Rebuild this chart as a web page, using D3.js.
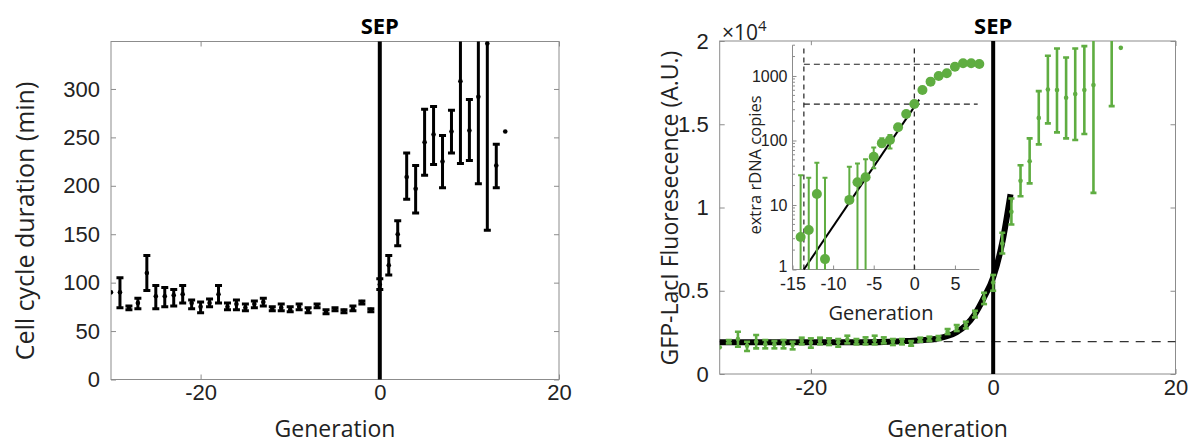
<!DOCTYPE html>
<html><head><meta charset="utf-8">
<script src="https://cdn.jsdelivr.net/npm/d3@7"></script>
<style>
body{margin:0;background:#fff;}
svg{display:block;font-family:"Open Sans",sans-serif;}
</style></head>
<body><svg id="c" width="1194" height="445"></svg>
<script>
// ---------- DATA ----------
// Left panel: cell cycle duration (min)
const leftGen  = [-30,-29,-28,-27,-26,-25,-24,-23,-22,-21,-20,-19,-18,-17,-16,-15,-14,-13,-12,-11,-10,-9,-8,-7,-6,-5,-4,-3,-2,-1,0,1,2,3,4,5,6,7,8,9,10,11,12,13,14];
const leftMean = [90,90,74,79,110,86,86,87,88,79,75,79,88,75,78,74,78,80,73,74,72,75,72,76,70,72,71,73,80,72,98,118,150,209,197,245,253,225,256,308,257,292,347,221,256];
const leftLo   = [null,74,72,73,92,73,75,76,79,73,69,75,79,72,72,71,74,76,71,71,70,72,69,74,68,71,69,71,78,70,93,108,138,186,172,211,222,198,234,223,226,202,154,198,null];
const leftHi   = [null,105,76,84,128,97,95,93,97,82,80,83,97,79,82,78,81,84,75,78,75,78,74,78,72,74,72,76,81,73,104,128,164,234,221,279,282,252,278,393,289,382,540,243,null];
const leftYTicks = [0,50,100,150,200,250,300];
const xTicks = [-20,0,20];

// Right panel: GFP-LacI fluorescence (x10^4 A.U.)
const rightGen  = [-30,-29,-28,-27,-26,-25,-24,-23,-22,-21,-20,-19,-18,-17,-16,-15,-14,-13,-12,-11,-10,-9,-8,-7,-6,-5,-4,-3,-2,-1,0,1,2,3,4,5,6,7,8,9,10,11,13,14];
const rightMean = [0.160,0.194,0.210,0.170,0.194,0.178,0.178,0.178,0.174,0.198,0.188,0.198,0.194,0.190,0.208,0.194,0.200,0.202,0.200,0.194,0.194,0.184,0.204,0.210,0.214,0.254,0.278,0.294,0.360,0.454,0.550,0.784,0.974,1.160,1.278,1.538,1.709,1.705,1.659,1.681,1.705,1.735,2.05,1.959];
const rightLo   = [null,0.184,0.164,0.138,0.154,0.154,0.154,0.154,0.148,0.178,0.158,0.178,0.174,0.164,0.184,0.178,0.178,0.178,0.184,0.174,0.178,0.170,0.194,0.198,0.204,0.240,0.258,0.274,0.340,0.420,0.500,0.724,0.898,1.068,1.145,1.379,1.505,1.451,1.415,1.405,1.441,1.088,1.609,null];
const rightHi   = [null,0.204,0.254,0.194,0.234,0.204,0.198,0.204,0.194,0.218,0.214,0.218,0.214,0.210,0.230,0.210,0.220,0.230,0.220,0.210,0.210,0.198,0.218,0.224,0.228,0.270,0.294,0.314,0.380,0.488,0.595,0.848,1.054,1.254,1.415,1.699,1.911,1.955,1.901,1.955,1.969,2.38,2.49,null];
// fit curve
const fitGen = [-30,-15,-10,-8,-6,-5,-4,-3,-2,-1,0,1,1.9];
const fitVal = [0.190,0.190,0.197,0.203,0.214,0.228,0.252,0.292,0.360,0.460,0.580,0.790,1.080];
const baseline = 0.194;
const rightYTicks = [0,0.5,1,1.5,2];
const rightYLabels = ["0","0.5","1","1.5","2"];

// Inset: extra rDNA copies (log)
const insetGen  = [-14,-13,-12,-11,-8,-7,-6,-5,-4,-3,-2,-1,0,1,2,3,4,5,6,7,8];
const insetVal  = [3.2,4.1,14.8,1.45,12,22.5,27,56,91,102,160,258,368,607,817,1000,1100,1394,1574,1574,1530];
const insetLo   = [0.5,0.5,0.5,0.5,12,0.5,0.5,37,80,75,150,250,360,null,null,null,null,null,null,null,null];
const insetHi   = [29,26.5,45,26.5,39,44,51,78,108,122,170,266,376,null,null,null,null,null,null,null,null];
const insetFitGen = [-13.6,0.6];
const insetFitVal = [1,430];
const insetHLines = [1520,365];
const insetVLines = [-13.6,0];
const insetXTicks = [-15,-10,-5,0,5];
const insetYTicks = [1,10,100,1000];

// ---------- DRAW ----------
const svg = d3.select("#c");
const green = "#5fad41";
const axisCol = "#8c8c8c";
const fs = 22;
const fmt = d => String(d);

function zip(g,m,lo,hi){return g.map((d,i)=>({g:d,m:m[i],lo:lo?lo[i]:null,hi:hi?hi[i]:null}));}

function frame(x, y, yTicks, yFmt, clipId){
  const [x0,x1]=x.range(), [y0,y1]=y.range();
  svg.append("clipPath").attr("id",clipId).append("rect")
    .attr("x",x0).attr("y",y1).attr("width",x1-x0).attr("height",y0-y1);
  const mk=(ax,tx,ty,labels)=>{
    const g=svg.append("g").attr("transform",`translate(${tx},${ty})`).call(ax);
    g.select(".domain").remove();
    g.selectAll(".tick line").attr("stroke",axisCol);
    g.selectAll(".tick text").attr("fill","#222").style("font-size",fs+"px");
    if(!labels) g.selectAll(".tick text").remove();
    return g;
  };
  mk(d3.axisBottom(x).tickValues(xTicks).tickSize(-5).tickPadding(5).tickFormat(fmt),0,y0,true);
  mk(d3.axisTop(x).tickValues(xTicks).tickSize(-5),0,y1,false);
  mk(d3.axisLeft(y).tickValues(yTicks).tickSize(-5).tickPadding(11).tickFormat(yFmt),x0,0,true);
  mk(d3.axisRight(y).tickValues(yTicks).tickSize(-5),x1,0,false);
  svg.append("rect").attr("x",x0).attr("y",y1).attr("width",x1-x0).attr("height",y0-y1)
    .attr("fill","none").attr("stroke",axisCol).attr("stroke-width",1);
}

function errorbars(x,y,data,color,lw,cap,r,clipId){
  const g=svg.append("g").attr("clip-path",`url(#${clipId})`);
  const eb=data.filter(d=>d.lo!=null);
  g.selectAll(".v").data(eb).join("line")
    .attr("x1",d=>x(d.g)).attr("x2",d=>x(d.g)).attr("y1",d=>y(d.lo)).attr("y2",d=>y(d.hi))
    .attr("stroke",color).attr("stroke-width",lw);
  ["lo","hi"].forEach(k=>{
    g.selectAll(".c"+k).data(eb).join("line")
      .attr("x1",d=>x(d.g)-cap).attr("x2",d=>x(d.g)+cap).attr("y1",d=>y(d[k])).attr("y2",d=>y(d[k]))
      .attr("stroke",color).attr("stroke-width",lw);
  });
  g.selectAll("circle").data(data).join("circle")
    .attr("cx",d=>x(d.g)).attr("cy",d=>y(d.m)).attr("r",r).attr("fill",color);
}

// ----- Left panel -----
const xL=d3.scaleLinear().domain([-30,20]).range([111,559]);
const yL=d3.scaleLinear().domain([0,349]).range([379.5,41.5]);
frame(xL,yL,leftYTicks,fmt,"clipL");
svg.append("line").attr("x1",xL(0)).attr("x2",xL(0)).attr("y1",yL(0)).attr("y2",yL(349))
  .attr("stroke","#000").attr("stroke-width",4);
errorbars(xL,yL,zip(leftGen,leftMean,leftLo,leftHi),"#000",3,3.5,2.3,"clipL");
svg.append("text").attr("x",xL(0)).attr("y",34).attr("text-anchor","middle")
  .style("font-weight","bold").style("font-size","22px").text("SEP");
svg.append("text").attr("x",(111+559)/2).attr("y",437).attr("text-anchor","middle")
  .style("font-size","23px").attr("fill","#222").text("Generation");
svg.append("text").attr("transform",`translate(34,${221}) rotate(-90)`)
  .attr("text-anchor","middle").style("font-size","25px").attr("fill","#222").text("Cell cycle duration (min)");

// ----- Right panel -----
const xR=d3.scaleLinear().domain([-30,20]).range([719.7,1175.5]);
const yR=d3.scaleLinear().domain([0,2]).range([374,41]);
frame(xR,yR,rightYTicks,(d,i)=>rightYLabels[i],"clipR");
svg.append("line").attr("x1",xR(-30)).attr("x2",xR(20)).attr("y1",yR(baseline)).attr("y2",yR(baseline))
  .attr("stroke","#333").attr("stroke-width",1.3).attr("stroke-dasharray","9,7");
svg.append("line").attr("x1",xR(0)).attr("x2",xR(0)).attr("y1",yR(0)).attr("y2",yR(2))
  .attr("stroke","#000").attr("stroke-width",4);
svg.append("path").datum(fitGen.map((g,i)=>({g,v:fitVal[i]})))
  .attr("d",d3.line().x(d=>xR(d.g)).y(d=>yR(d.v)).curve(d3.curveMonotoneX))
  .attr("fill","none").attr("stroke","#000").attr("stroke-width",6);
errorbars(xR,yR,zip(rightGen,rightMean,rightLo,rightHi),green,2.6,3,2.3,"clipR");
svg.append("text").attr("x",xR(0)).attr("y",34).attr("text-anchor","middle")
  .style("font-weight","bold").style("font-size","22px").text("SEP");
svg.append("text").attr("x",(719.7+1175.5)/2).attr("y",437).attr("text-anchor","middle")
  .style("font-size","23px").attr("fill","#222").text("Generation");
svg.append("text").attr("transform",`translate(678,${208}) rotate(-90)`)
  .attr("text-anchor","middle").style("font-size","23px").attr("fill","#222").text("GFP-LacI Fluoresecence (A.U.)");
const mult=svg.append("text").attr("x",722).attr("y",40).style("font-size","21px").attr("fill","#222");
mult.append("tspan").text("×10");
mult.append("tspan").attr("dy",-9).style("font-size","15px").text("4");

// ----- Inset -----
const xI=d3.scaleLinear().domain([-15,8]).range([792.5,979.3]);
const yI=d3.scaleLog().domain([1,3000]).range([269.5,45.2]);
svg.append("rect").attr("x",xI(-15)).attr("y",yI(3000)).attr("width",xI(8)-xI(-15)).attr("height",yI(1)-yI(3000)).attr("fill","#fff");
svg.append("clipPath").attr("id","clipI").append("rect")
  .attr("x",xI(-15)-10).attr("y",yI(3000)).attr("width",xI(8)-xI(-15)+20).attr("height",yI(1)-yI(3000));
svg.append("line").attr("x1",xI(-15)).attr("x2",xI(8)).attr("y1",yI(1)).attr("y2",yI(1)).attr("stroke",axisCol);
svg.append("line").attr("x1",xI(-15)).attr("x2",xI(-15)).attr("y1",yI(1)).attr("y2",yI(3000)).attr("stroke",axisCol);
{
  const gx=svg.append("g").attr("transform",`translate(0,${yI(1)})`)
    .call(d3.axisBottom(xI).tickValues(insetXTicks).tickSize(-4).tickPadding(8).tickFormat(fmt));
  gx.select(".domain").remove();
  gx.selectAll(".tick line").attr("stroke",axisCol);
  gx.selectAll(".tick text").attr("fill","#222").style("font-size","18px");
  const gy=svg.append("g").attr("transform",`translate(${xI(-15)},0)`)
    .call(d3.axisLeft(yI).tickValues(insetYTicks).tickSize(-4).tickPadding(5).tickFormat(fmt));
  gy.select(".domain").remove();
  gy.selectAll(".tick line").attr("stroke",axisCol);
  gy.selectAll(".tick text").attr("fill","#222").style("font-size","16px");
  gy.selectAll(".tick").filter(d=>d===1).select("text").attr("dy","0.1em");
  const minor=yI.ticks().filter(v=>!insetYTicks.includes(v));
  svg.append("g").selectAll("line").data(minor).join("line")
    .attr("x1",xI(-15)).attr("x2",xI(-15)+2.5).attr("y1",d=>yI(d)).attr("y2",d=>yI(d)).attr("stroke",axisCol);
}
svg.append("g").selectAll("line").data(insetVLines).join("line")
  .attr("x1",d=>xI(d)).attr("x2",d=>xI(d)).attr("y1",yI(1)).attr("y2",yI(3000))
  .attr("stroke","#222").attr("stroke-width",1.2).attr("stroke-dasharray","5,4");
svg.append("g").selectAll("line").data(insetHLines).join("line")
  .attr("x1",xI(-13.6)).attr("x2",xI(7.8)).attr("y1",d=>yI(d)).attr("y2",d=>yI(d))
  .attr("stroke","#222").attr("stroke-width",1.2).attr("stroke-dasharray","6,4");
svg.append("path").datum(insetFitGen.map((g,i)=>({g,v:insetFitVal[i]})))
  .attr("d",d3.line().x(d=>xI(d.g)).y(d=>yI(d.v)))
  .attr("stroke","#000").attr("stroke-width",2).attr("fill","none");
errorbars(xI,yI,zip(insetGen,insetVal,insetLo,insetHi),green,2,2.5,5,"clipI");
svg.append("text").attr("x",(xI(-15)+xI(8))/2-5).attr("y",320).attr("text-anchor","middle")
  .style("font-size","20px").attr("fill","#222").text("Generation");
svg.append("text").attr("transform",`translate(761,${(45+269)/2+8}) rotate(-90)`)
  .attr("text-anchor","middle").style("font-size","16.5px").attr("fill","#222").text("extra rDNA copies");
</script></body></html>
